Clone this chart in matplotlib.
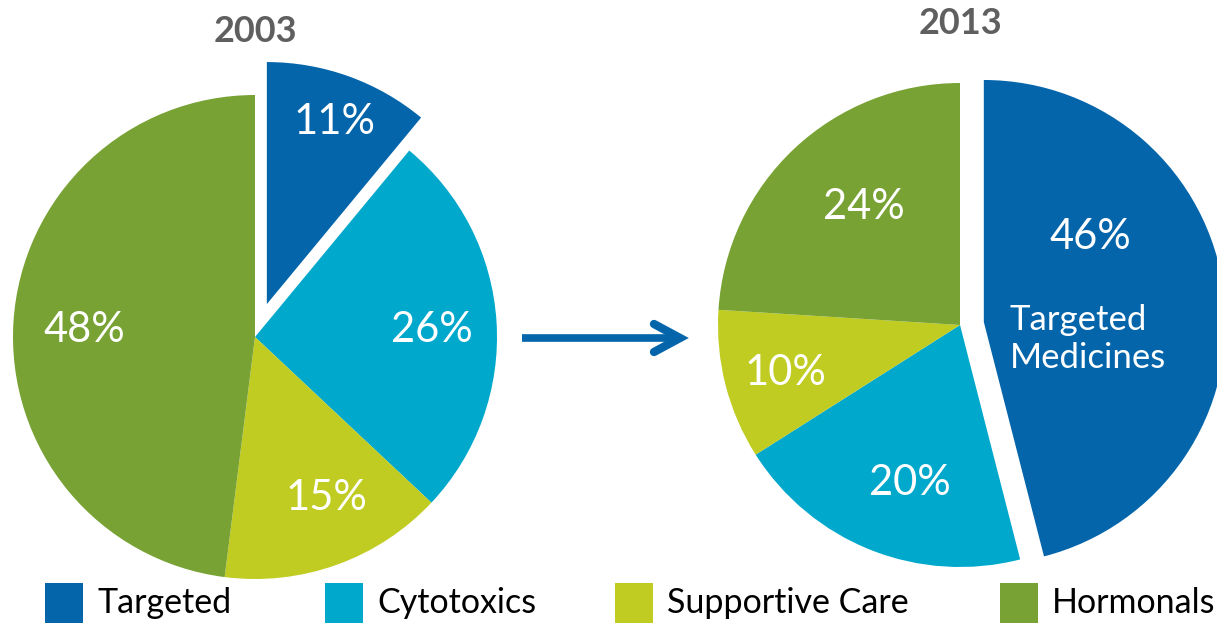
import matplotlib
matplotlib.use("Agg")
import matplotlib.pyplot as plt

# data
categories = ["Targeted", "Cytotoxics", "Supportive Care", "Hormonals"]
share_2003 = [11, 26, 15, 48]
share_2013 = [46, 20, 10, 24]
colors = ["#0465AB", "#00A8CC", "#C0CC22", "#78A234"]

W, H = 1217, 623
plt.rcParams["font.family"] = ["Lato", "DejaVu Sans"]

fig = plt.figure(figsize=(W / 100, H / 100), dpi=100)
ax = fig.add_axes([0, 0, 1, 1])

R = 242


def py(y):  # pixel row -> data y
    return H - y


def draw_pie(vals, cx, cy, explode_px, title, title_y):
    ax.pie(vals, colors=colors, startangle=90, counterclock=False,
           center=(cx, py(cy)), radius=R,
           explode=[explode_px, 0, 0, 0], wedgeprops=dict(linewidth=0),
           frame=True)
    ax.text(cx, py(title_y), title, ha="center", va="center",
            fontsize=26, fontweight="bold", color="#5F5F5F")


draw_pie(share_2003, 255, 337, 35, "2003", 31)
draw_pie(share_2013, 960, 325, 24, "2013", 23)
ax.set_xlim(0, W); ax.set_ylim(0, H)
ax.set_aspect("equal"); ax.axis("off")

lab = dict(ha="center", va="center", color="white", fontsize=30)
left_pos = [(335, 122), (432, 330), (326, 498), (84, 330)]
right_pos = [(1090, 237), (910, 483), (785, 373), (864, 207)]
for v, (x, y) in zip(share_2003, left_pos):
    ax.text(x, py(y), f"{v}%", **lab)
for v, (x, y) in zip(share_2013, right_pos):
    ax.text(x, py(y), f"{v}%", **lab)
ax.text(1010, py(339), "Targeted\nMedicines", ha="left", va="center",
        color="white", fontsize=25, linespacing=1.25)

# arrow between pies
blue = colors[0]
ax.plot([522, 680], [py(338), py(338)], color=blue, lw=5.5, solid_capstyle="butt")
ax.plot([654, 680, 654], [py(324), py(338), py(352)], color=blue, lw=6,
        solid_capstyle="round", solid_joinstyle="miter")

# legend
leg_x = [45, 325, 615, 1000]
for c, name, x in zip(colors, categories, leg_x):
    ax.add_patch(plt.Rectangle((x, py(623)), 38, 40, color=c, lw=0))
    ax.text(x + 52, py(603), name, ha="left", va="center", fontsize=24.5,
            color="black")

fig.savefig("out.png", dpi=100)
